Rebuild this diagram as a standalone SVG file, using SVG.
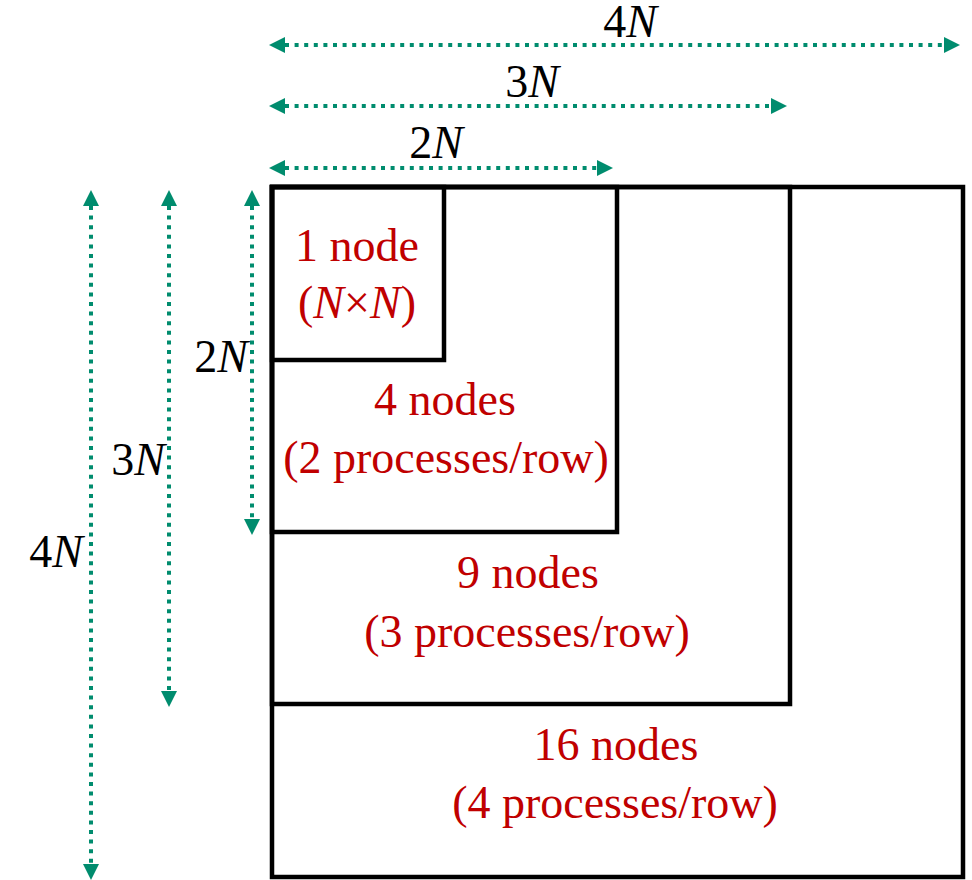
<svg xmlns="http://www.w3.org/2000/svg" width="972" height="880" viewBox="0 0 972 880">
<style>
.box{fill:none;stroke:#000;stroke-width:4.5;stroke-linejoin:miter}
.dim{fill:none;stroke:#008C6E;stroke-width:4;stroke-dasharray:4 5.6;marker-start:url(#ah);marker-end:url(#ah)}
.lbl{font-family:"Liberation Serif","Times New Roman",serif;font-size:46px;fill:#000}
.red{font-family:"Liberation Serif","Times New Roman",serif;font-size:46px;fill:#C00000;text-anchor:middle}
.it{font-style:italic}
</style>
<defs>
<marker id="ah" viewBox="0 0 16 16" refX="0" refY="8" markerWidth="16" markerHeight="16" markerUnits="userSpaceOnUse" orient="auto-start-reverse">
<path d="M0,0 L16,8 L0,16 z" fill="#008C6E"/>
</marker>
</defs>
<g id="box16">
<rect class="box" x="272" y="187" width="691" height="690"/>
<text class="red" x="616" y="760">16 nodes</text>
<text class="red" x="615" y="818">(4 processes/row)</text>
</g>
<g id="box9">
<rect class="box" x="272" y="187" width="518" height="517"/>
<text class="red" x="528" y="588">9 nodes</text>
<text class="red" x="527" y="647">(3 processes/row)</text>
</g>
<g id="box4">
<rect class="box" x="272" y="187" width="345" height="345"/>
<text class="red" x="445" y="415">4 nodes</text>
<text class="red" x="446" y="473">(2 processes/row)</text>
</g>
<g id="box1">
<rect class="box" x="272" y="187" width="172" height="173"/>
<text class="red" x="357" y="261">1 node</text>
<text class="red" x="357" y="318">(<tspan class="it">N</tspan>×<tspan class="it">N</tspan>)</text>
</g>
<g id="connectors">
<line class="dim" x1="285" y1="45" x2="944" y2="45"/>
<line class="dim" x1="285" y1="106" x2="771" y2="106"/>
<line class="dim" x1="285" y1="168" x2="597" y2="168"/>
<line class="dim" x1="91" y1="206" x2="91" y2="864"/>
<line class="dim" x1="169" y1="206" x2="169" y2="691"/>
<line class="dim" x1="252" y1="206" x2="252" y2="519"/>
</g>
<g id="labels">
<text class="lbl" x="630" y="37" text-anchor="middle">4<tspan class="it">N</tspan></text>
<text class="lbl" x="532" y="97" text-anchor="middle">3<tspan class="it">N</tspan></text>
<text class="lbl" x="436" y="158" text-anchor="middle">2<tspan class="it">N</tspan></text>
<text class="lbl" x="248" y="372" text-anchor="end">2<tspan class="it">N</tspan></text>
<text class="lbl" x="165" y="475" text-anchor="end">3<tspan class="it">N</tspan></text>
<text class="lbl" x="83" y="567" text-anchor="end">4<tspan class="it">N</tspan></text>
</g>
</svg>
